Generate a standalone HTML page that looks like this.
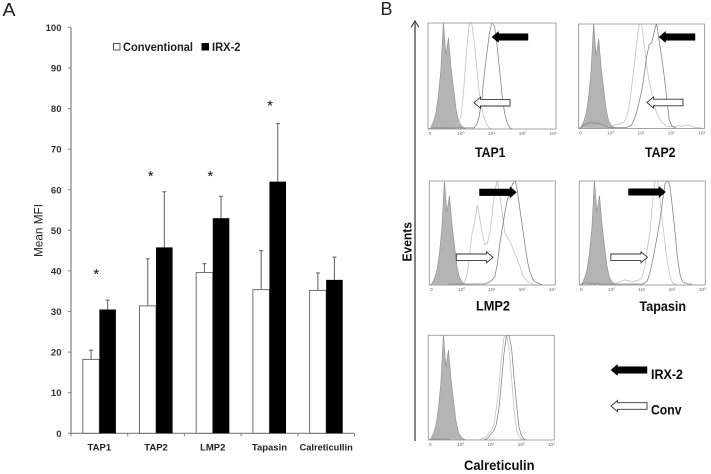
<!DOCTYPE html>
<html lang="en">
<head>
<meta charset="utf-8">
<title>Mean MFI and flow cytometry histograms</title>
<style>
html,body{margin:0;padding:0;background:#fff;width:711px;height:474px;overflow:hidden}
svg{display:block;font-family:"Liberation Sans",sans-serif}
</style>
</head>
<body>
<svg id="fig" width="711" height="474" viewBox="0 0 711 474" xmlns="http://www.w3.org/2000/svg">
  <g id="root" filter="url(#soft)"></g>
  <defs>
    <filter id="soft" x="0" y="0" width="100%" height="100%"><feGaussianBlur stdDeviation="0.35"/></filter>
  </defs>
</svg>
<script>
// ---- Panel A data ----
const categories = ['TAP1', 'TAP2', 'LMP2', 'Tapasin', 'Calreticullin'];
const conventionalMeans = [18.2, 31.4, 39.6, 35.4, 35.2];
const irxMeans = [30.5, 45.8, 53, 62, 37.8];
const conventionalErrors = [2.3, 11.6, 2.2, 9.6, 4.3];
const irxErrors = [2.3, 13.7, 5.4, 14.3, 5.6];
const significant = [true, true, true, true, false];
const starValues = [39.2, 63.4, 63.4, 80.7, null];
const yTicks = [0, 10, 20, 30, 40, 50, 60, 70, 80, 90, 100];

// ---- Panel B data: counts (% of frame height) per channel bin ----
const isotypeCounts = [0,1,6,14,30,55,101,70,86,58,38,18,7,3,1,0];
const tap1Conv = [0,0,0,0,0,0,0,0,0,0,0,2,5,14,38,72,98,101,84,60,35,20,10,4,1,0];
const tap1Irx = [0,0,1,1,1,1,1,1,1,1,1,1,1,1,1,1,1,1,1,4,12,28,52,72,90,101,97,78,55,30,14,5,1,0];
const tap2Conv = [0,1,1,1,1,1,1,1,2,2,2,2,2,3,3,4,4,5,6,10,20,38,58,80,99,101,82,62,45,35,22,15,10,6,4,2,2,2,2,2,3,2,3,3,3,2,1,1,1,0];
const tap2Irx = [0,1,3,4,5,6,5,5,5,4,3,2,1,1,1,1,1,1,1,1,2,3,8,15,25,35,50,68,80,82,92,101,84,68,50,30,8,3,1,0];
const lmp2Conv = [0,0,1,1,1,1,1,1,1,1,1,1,1,1,3,10,28,50,60,77,64,50,39,40,50,70,90,101,86,68,50,46,42,36,30,24,18,10,6,3,2,1,0];
const lmp2Irx = [0,0,0,0,0,0,0,0,1,1,1,1,1,1,1,1,1,1,1,1,1,1,1,2,3,5,8,20,40,55,70,82,90,97,101,90,72,55,38,22,12,6,3,2,1,0];
const tapasinConv = [0,1,1,1,1,1,1,1,1,1,1,2,2,2,2,2,3,4,5,4,4,3,4,4,5,8,18,35,50,78,99,101,84,60,40,22,8,2,1,0];
const tapasinIrx = [0,1,2,2,1,2,1,2,1,1,1,1,1,1,1,1,1,1,1,1,1,1,1,1,1,1,2,4,12,22,35,48,62,80,97,101,95,74,50,25,10,3,2,1,1,0];
const calConv = [0,0,1,1,2,2,2,1,1,1,1,0,0,0,0,0,0,0,0,0,0,1,2,3,6,9,15,30,50,78,98,101,88,60,30,10,3,1,0];
const calIrx = [0,0,1,1,1,1,1,1,1,0,0,0,0,0,0,0,0,0,0,0,0,0,0,1,3,6,9,15,30,55,82,99,101,88,60,35,12,4,1,0];
const histogramTicks = ['0', '10\u2070', '10\u00b9', '10\u00b2', '10\u00b3'];

const NS = 'http://www.w3.org/2000/svg';
const root = document.getElementById('root');
const defs = document.querySelector('defs');

function mk(tag, attrs, parent) {
  const el = document.createElementNS(NS, tag);
  for (const k in attrs) el.setAttribute(k, attrs[k]);
  (parent || root).appendChild(el);
  return el;
}

// ---- Panel A axes ----
const plotLeft = 71, plotRight = 354.5, plotTop = 27.4, plotBottom = 433.3;
const yScale = v => plotBottom - (v / 100) * (plotBottom - plotTop);
const bandWidth = (plotRight - plotLeft) / categories.length;
const barWidth = bandWidth * 0.292;
const bandCenter = i => plotLeft + bandWidth * (i + 0.5);

const panelA = mk('g', {});



const yAxis = mk('line', {x1: plotLeft, x2: plotLeft, y1: plotTop, y2: plotBottom, stroke: '#808080', 'stroke-width': 1.2}, panelA);


const xAxis = mk('line', {x1: plotLeft, x2: plotRight, y1: plotBottom, y2: plotBottom, stroke: '#808080', 'stroke-width': 1.2}, panelA);



yTicks.forEach(v => {
  mk('line', {x1: plotLeft - 3, x2: plotLeft, y1: yScale(v), y2: yScale(v), stroke: '#808080', 'stroke-width': 1}, panelA);
  const t = mk('text', {x: 61.5, y: yScale(v) + 3.5, 'text-anchor': 'end', 'font-size': 9.5, 'font-weight': 'bold', fill: '#333'}, panelA);
  t.textContent = v;
  
  
});
for (let i = 0; i <= categories.length; i++) {
  const x = plotLeft + bandWidth * i;
  mk('line', {x1: x, x2: x, y1: plotBottom, y2: plotBottom + 3, stroke: '#808080', 'stroke-width': 1}, panelA);
}

function errorBar(x, top, err) {
  const y = yScale(top + err);
  const g = mk('g', {stroke: '#6a6a6a', 'stroke-width': 1.1}, panelA);
  
  
  mk('line', {x1: x, x2: x, y1: yScale(top), y2: y}, g);
  mk('line', {x1: x - 2, x2: x + 2, y1: y, y2: y}, g);
}

function starX(i) {
  return bandCenter(i) - (i === 1 ? 5.4 : i === 2 ? 2.4 : i === 3 ? -0.6 : 3);
}

categories.forEach((c, i) => {
  const cx = bandCenter(i);
  errorBar(cx - barWidth / 2, conventionalMeans[i], conventionalErrors[i]);
  errorBar(cx + barWidth / 2, irxMeans[i], irxErrors[i]);
  const w = mk('rect', {x: cx - barWidth, y: yScale(conventionalMeans[i]), width: barWidth, height: plotBottom - yScale(conventionalMeans[i]), fill: '#fff', stroke: '#707070', 'stroke-width': 1}, panelA);
  
  
  const b = mk('rect', {x: cx, y: yScale(irxMeans[i]), width: barWidth, height: plotBottom - yScale(irxMeans[i]), fill: '#000'}, panelA);
  
  
  const l = mk('text', {x: cx, y: 450.5, 'text-anchor': 'middle', 'font-size': c.length > 10 ? 9.3 : 9.5, 'font-weight': 'bold', fill: '#222'}, panelA);
  l.textContent = c;
  
  
  if (significant[i]) {
    const s = mk('text', {x: starX(i), y: yScale(starValues[i]) + 5, 'text-anchor': 'middle', 'font-size': 15, fill: '#111'}, panelA);
    s.textContent = '*';
    
    
  }
});

// ---- Panel B histograms ----
let clipCount = 0;
function curvePoints(counts, x, y, w, h) {
  return counts.map((c, i) => (x + (i * 2 / 100) * w).toFixed(1) + ',' + (y + h - (c / 100) * h).toFixed(1)).join(' ');
}
function drawHistogram(name, x, y, w, h, conv, irx) {
  const g = mk('g', {});
  
  
  const id = 'clip' + (clipCount++);
  const cp = mk('clipPath', {id: id}, defs);
  mk('rect', {x: x, y: y, width: w, height: h}, cp);
  const inner = mk('g', {'clip-path': 'url(#' + id + ')'}, g);
  const iso = mk('polygon', {points: curvePoints(isotypeCounts, x, y, w, h), fill: '#b4b4b4', stroke: '#8c8c8c', 'stroke-width': 0.6}, inner);
  
  
  const c1 = mk('polyline', {points: curvePoints(conv, x, y, w, h), fill: 'none', stroke: '#c2c2c2', 'stroke-width': 0.8}, inner);
  
  
  const c2 = mk('polyline', {points: curvePoints(irx, x, y, w, h), fill: 'none', stroke: '#858585', 'stroke-width': 0.8}, inner);
  
  
  const f = mk('rect', {x: x, y: y, width: w, height: h, fill: 'none', stroke: '#9a9a9a', 'stroke-width': 0.9}, g);
  
  
  histogramTicks.forEach((t, i) => {
    const e = mk('text', {x: x + 2 + (i / 4) * (w - 5), y: y + h + 6, 'text-anchor': 'middle', 'font-size': 4.8, fill: '#666'}, g);
    e.textContent = t;
    
    
  });
}
drawHistogram('tap1', 428, 23, 128, 106, tap1Conv, tap1Irx);
drawHistogram('tap2', 578.5, 24, 126, 104.5, tap2Conv, tap2Irx);
drawHistogram('lmp2', 429.3, 181, 126, 104, lmp2Conv, lmp2Irx);
drawHistogram('tapasin', 579.3, 181, 126, 104, tapasinConv, tapasinIrx);
drawHistogram('calreticulin', 428.3, 335.3, 126, 104.7, calConv, calIrx);

// ---- Block arrows ----
function blockArrow(name, tipX, tailX, cy, color) {
  const dir = tailX > tipX ? 1 : -1;
  const neck = tipX + dir * 6.5;
  const pts = [[tipX, cy], [neck, cy - 5.5], [neck, cy - 3.3], [tailX, cy - 3.3], [tailX, cy + 3.3], [neck, cy + 3.3], [neck, cy + 5.5]];
  const a = mk('polygon', {points: pts.map(p => p.join(',')).join(' '), fill: color === 'black' ? '#000' : '#fff', stroke: color === 'black' ? '#000' : '#333', 'stroke-width': color === 'black' ? 0.5 : 0.9});
  
  
}
blockArrow('tap1-irx-2-arrow', 492, 528, 37, 'black');
blockArrow('tap1-conv-arrow', 474, 510, 102.7, 'white');
blockArrow('tap2-irx-2-arrow', 659, 695, 37, 'black');
blockArrow('tap2-conv-arrow', 647, 683, 102.5, 'white');
blockArrow('lmp2-irx-2-arrow', 516.5, 479.5, 192.3, 'black');
blockArrow('lmp2-conv-arrow', 493, 456.3, 257.3, 'white');
blockArrow('tapasin-irx-2-arrow', 665.5, 628.5, 192, 'black');
blockArrow('tapasin-conv-arrow', 647.5, 610.8, 257.3, 'white');
blockArrow('legend-irx-2-arrow', 611, 647, 370, 'black');
blockArrow('legend-conv-arrow', 611, 647, 406, 'white');

// ---- Static text and legend ----
function label(name, str, x, y, size, weight, fill, len) {
  const t = mk('text', {x: x, y: y, 'font-size': size, 'font-weight': weight, fill: fill});
  if (len) { t.setAttribute('textLength', len); t.setAttribute('lengthAdjust', 'spacingAndGlyphs'); }
  t.textContent = str;
  
  
  return t;
}
label('panel-a-label', 'A', 2.5, 16, 18, 'normal', '#222', 13);
label('panel-b-label', 'B', 380.5, 15, 18, 'normal', '#222', 12);
label('legend-conventional-label', 'Conventional', 123, 51, 12, 'bold', '#222', 70);
label('legend-irx-2-label', 'IRX-2', 212, 51, 12, 'bold', '#222', 28.5);
label('tap1-title', 'TAP1', 475, 157, 14, 'bold', '#111', 30.5);
label('tap2-title', 'TAP2', 645, 157, 14, 'bold', '#111', 30.5);
label('lmp2-title', 'LMP2', 476, 310.5, 14, 'bold', '#111', 34);
label('tapasin-title', 'Tapasin', 639.5, 311, 14, 'bold', '#111', 46.5);
label('calreticulin-title', 'Calreticulin', 464, 470, 14, 'bold', '#111', 70.5);
label('legend-irx-2-text', 'IRX-2', 651, 379, 14, 'bold', '#111', 32);
label('legend-conv-text', 'Conv', 651, 414.5, 14, 'bold', '#111', 30.5);

const sq1 = mk('rect', {x: 113.5, y: 43.5, width: 6.5, height: 6.5, fill: '#fff', stroke: '#555', 'stroke-width': 1});


const sq2 = mk('rect', {x: 201.5, y: 43, width: 7.5, height: 7.5, fill: '#000'});



const yTitle = mk('text', {transform: 'translate(42.5,257) rotate(-90)', 'font-size': 12, fill: '#222', textLength: 53, lengthAdjust: 'spacingAndGlyphs'});
yTitle.textContent = 'Mean MFI';



const eventsTitle = mk('text', {transform: 'translate(411.5,261.5) rotate(-90)', 'font-size': 13, 'font-weight': 'bold', fill: '#111', textLength: 39.5, lengthAdjust: 'spacingAndGlyphs'});
eventsTitle.textContent = 'Events';



const eventsAxis = mk('line', {x1: 415, x2: 415, y1: 21, y2: 441, stroke: '#777', 'stroke-width': 1.8});


const eventsHead = mk('polyline', {points: '411,27.5 415,21 419,27.5', fill: 'none', stroke: '#333', 'stroke-width': 1});


</script>
</body>
</html>
